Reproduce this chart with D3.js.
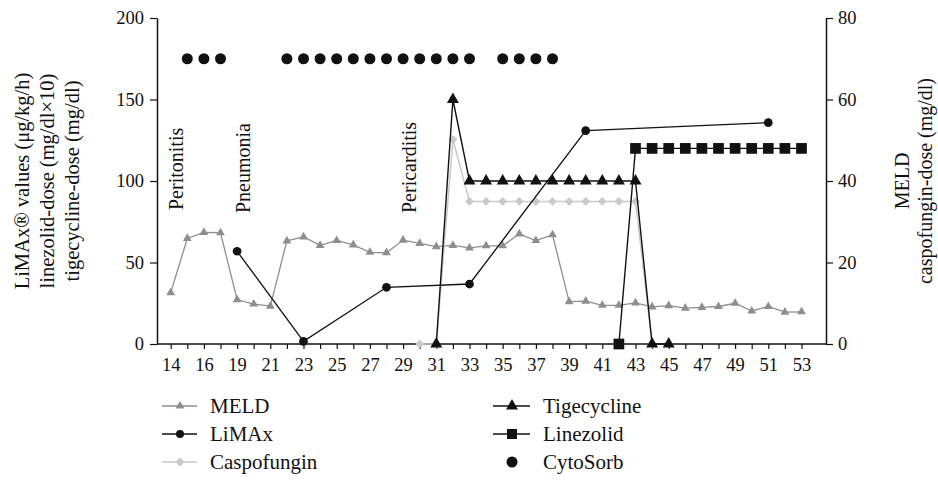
<!DOCTYPE html>
<html><head><meta charset="utf-8">
<script src="https://cdn.jsdelivr.net/npm/d3@7/dist/d3.min.js"></script>
<style>body{margin:0;background:#fff}svg{display:block}</style>
</head><body><svg id="c" width="938" height="481" font-family="'Liberation Serif','Times New Roman',Times,serif"></svg>
<script>
const days = ["14","15","16","17","19","20","21","22","23","24","25","26","27","28","29","30","31","32","33","34","35","36","37","38","39","40","41","42","43","44","45","46","47","48","49","50","51","52","53"];
const tickLabels = ["14","16","19","21","23","25","27","29","31","33","35","37","39","41","43","45","47","49","51","53"];
const N = null;
// right axis (MELD)
const meld = [12.6,25.9,27.4,27.3,10.9,9.8,9.3,25.3,26.3,24.2,25.4,24.3,22.5,22.4,25.5,24.7,23.9,24.2,23.6,24.1,24.1,27.0,25.4,26.8,10.4,10.5,9.5,9.5,10.1,9.1,9.4,8.8,9.0,9.2,10.0,8.1,9.2,7.8,7.9];
// left axis
const limax = [N,N,N,N,56.9,N,N,N,1.6,N,N,N,N,34.8,N,N,N,N,36.8,N,N,N,N,N,N,130.9,N,N,N,N,N,N,N,N,N,N,135.8,N,N];
// right axis
const caspofungin = [N,N,N,N,N,N,N,N,N,N,N,N,N,N,N,0,0,50.2,35,35,35,35,35,35,35,35,35,35,35,0,N,N,N,N,N,N,N,N,N];
// left axis
const tigecycline = [N,N,N,N,N,N,N,N,N,N,N,N,N,N,N,N,0,150,100,100,100,100,100,100,100,100,100,100,100,0,0,N,N,N,N,N,N,N,N];
const linezolid = [N,N,N,N,N,N,N,N,N,N,N,N,N,N,N,N,N,N,N,N,N,N,N,N,N,N,N,0,120,120,120,120,120,120,120,120,120,120,120];
const cytosorb = [N,175,175,175,N,N,N,175,175,175,175,175,175,175,175,175,175,175,175,N,175,175,175,175,N,N,N,N,N,N,N,N,N,N,N,N,N,N,N];
const events = [{day:"14",label:"Peritonitis"},{day:"19",label:"Pneumonia"},{day:"29",label:"Pericarditis"}];
const leftTicks = [0,50,100,150,200];
const rightTicks = [0,20,40,60,80];

const FONT = "'Liberation Serif','Times New Roman',Times,serif";
const svg = d3.select("#c");
const X0 = 157, X1 = 826, Y0 = 344, Y1 = 18;
const x = d3.scalePoint().domain(days).range([170.7, 801.5]);
const yL = d3.scaleLinear().domain([0,200]).range([Y0,Y1]);
const yR = d3.scaleLinear().domain([0,80]).range([Y0,Y1]);

const BLACK="#111", GREY="#8e8e8e", LIGHT="#c9c9c9";

// axes
const gx = svg.append("g").attr("transform",`translate(0,${Y0})`)
  .call(d3.axisBottom(x).tickSize(5).tickSizeOuter(0).tickFormat(d => tickLabels.includes(d) ? d : ""));
gx.attr("font-family",FONT);
gx.select(".domain").remove();
gx.append("line").attr("x1",X0).attr("x2",X1).attr("stroke",BLACK).attr("stroke-width",1.5);
gx.selectAll(".tick line").attr("stroke",BLACK).attr("stroke-width",1.2);
gx.selectAll(".tick text").attr("font-size",18.5).attr("fill",BLACK).attr("dy","1.05em");

const gl = svg.append("g").attr("transform",`translate(${X0},0)`)
  .call(d3.axisLeft(yL).tickValues(leftTicks).tickSize(7).tickSizeOuter(0));
gl.attr("font-family",FONT);
gl.select(".domain").attr("stroke",BLACK).attr("stroke-width",1.5);
gl.selectAll(".tick line").attr("stroke",BLACK).attr("stroke-width",1.2);
gl.selectAll(".tick text").attr("font-size",18.5).attr("fill",BLACK).attr("x",-13);

const gr = svg.append("g").attr("transform",`translate(${X1},0)`)
  .call(d3.axisRight(yR).tickValues(rightTicks).tickSize(7).tickSizeOuter(0));
gr.attr("font-family",FONT);
gr.select(".domain").attr("stroke",BLACK).attr("stroke-width",1.5);
gr.selectAll(".tick line").attr("stroke",BLACK).attr("stroke-width",1.2);
gr.selectAll(".tick text").attr("font-size",18.5).attr("fill",BLACK).attr("x",12);

// axis titles
const lt = ["LiMAx\u00AE values (\u03BCg/kg/h)","linezolid-dose (mg/dl\u00D710)","tigecycline-dose (mg/dl)"];
lt.forEach((t,i)=>{
  svg.append("text").attr("transform",`translate(${22+i*25},181) rotate(-90)`)
    .attr("text-anchor","middle").attr("dy","0.32em").attr("font-size",20.5).attr("fill",BLACK).text(t);
});
const rt = ["MELD","caspofungin-dose (mg/dl)"];
rt.forEach((t,i)=>{
  svg.append("text").attr("transform",`translate(${903+i*23},181) rotate(-90)`)
    .attr("text-anchor","middle").attr("dy","0.32em").attr("font-size",20).attr("fill",BLACK).text(t);
});

// event labels
events.forEach(e=>{
  const bottom = e.label==="Peritonitis" ? 210 : 213;
  svg.append("text").attr("transform",`translate(${x(e.day)+6},${bottom}) rotate(-90)`)
    .attr("dy","0.32em").attr("font-size",20).attr("fill",BLACK).text(e.label);
});

function series(vals, yScale, color, symType, size, rot, width){
  const pts = days.map((d,i)=>({d, v: vals[i]})).filter(p=>p.v!==null);
  const line = d3.line().x(p=>x(p.d)).y(p=>yScale(p.v));
  const g = svg.append("g");
  g.append("path").attr("d",line(pts)).attr("fill","none").attr("stroke",color).attr("stroke-width",width);
  const sym = d3.symbol().type(symType).size(size);
  g.selectAll("path.m").data(pts).join("path").attr("class","m")
    .attr("d",sym).attr("fill",color)
    .attr("transform",p=>`translate(${x(p.d)},${yScale(p.v)}) rotate(${rot})`);
}

series(meld, yR, GREY, d3.symbolTriangle, 34, 0, 1.3);
series(caspofungin, yR, LIGHT, d3.symbolSquare, 40, 45, 1.5);
series(limax, yL, BLACK, d3.symbolCircle, 60, 0, 1.3);
series(tigecycline, yL, BLACK, d3.symbolTriangle, 62, 0, 1.4);
series(linezolid, yL, BLACK, d3.symbolSquare, 115, 0, 1.4);

svg.append("g").selectAll("circle").data(days.map((d,i)=>({d,v:cytosorb[i]})).filter(p=>p.v!==null))
  .join("circle").attr("cx",p=>x(p.d)).attr("cy",p=>yL(p.v)).attr("r",5.5).attr("fill",BLACK);

// legend
const legend = [
  {name:"MELD", color:GREY, sym:d3.symbolTriangle, size:34, rot:0, line:true, col:0, row:0},
  {name:"LiMAx", color:BLACK, sym:d3.symbolCircle, size:50, rot:0, line:true, col:0, row:1},
  {name:"Caspofungin", color:LIGHT, sym:d3.symbolSquare, size:40, rot:45, line:true, col:0, row:2},
  {name:"Tigecycline", color:BLACK, sym:d3.symbolTriangle, size:62, rot:0, line:true, col:1, row:0},
  {name:"Linezolid", color:BLACK, sym:d3.symbolSquare, size:100, rot:0, line:true, col:1, row:1},
  {name:"CytoSorb", color:BLACK, sym:d3.symbolCircle, size:95, rot:0, line:false, col:1, row:2}
];
const colX = [{l0:162,l1:197,m:180,t:210},{l0:493,l1:530,m:512,t:543}];
legend.forEach(it=>{
  const c = colX[it.col], yy = 406 + it.row*28;
  if(it.line) svg.append("line").attr("x1",c.l0).attr("x2",c.l1).attr("y1",yy).attr("y2",yy).attr("stroke",it.color).attr("stroke-width",1.5);
  svg.append("path").attr("d",d3.symbol().type(it.sym).size(it.size)()).attr("fill",it.color)
    .attr("transform",`translate(${c.m},${yy}) rotate(${it.rot})`);
  svg.append("text").attr("x",c.t).attr("y",yy).attr("dy","0.33em").attr("font-size",21).attr("fill",BLACK).text(it.name);
});
</script></body></html>
